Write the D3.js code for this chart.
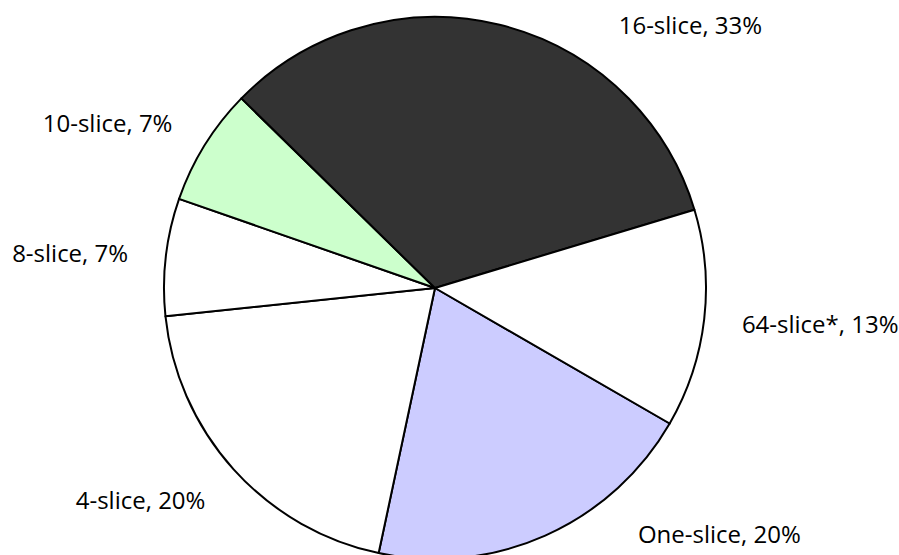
<!DOCTYPE html>
<html>
<head>
<meta charset="utf-8">
<script src="https://cdn.jsdelivr.net/npm/d3@7"></script>
<style>
  body { margin: 0; background: #fff; }
  svg { display: block; }
</style>
</head>
<body>
<div id="chart"></div>
<script>
// slice data, in the order the pie is drawn (clockwise)
var categories = ["One-slice", "4-slice", "8-slice", "10-slice", "16-slice", "64-slice*"];
var shares = [20, 20, 7, 7, 33, 13];
var sliceColors = ["#ccccff", "#ffffff", "#ffffff", "#ccffcc", "#333333", "#ffffff"];

var width = 899;
var height = 555;
var cx = 435, cy = 288;
var radius = 271;
var labelRadius = radius * 1.14;
var topLimit = 8, bottomLimit = 550;

var svg = d3.select("#chart")
    .append("svg")
    .attr("width", width)
    .attr("height", height);

var g = svg.append("g")
    .attr("transform", "translate(" + cx + "," + cy + ")");

var data = categories.map(function(c, i) { return { name: c, value: shares[i], color: sliceColors[i] }; });

var startAngle = 120 * Math.PI / 180;
var pie = d3.pie()
    .sort(null)
    .value(function(d) { return d.value; })
    .startAngle(startAngle)
    .endAngle(startAngle + 2 * Math.PI);

var arcs = pie(data);
var arc = d3.arc().innerRadius(0).outerRadius(radius);

g.selectAll("path.slice")
    .data(arcs)
    .enter()
    .append("path")
    .attr("class", "slice")
    .attr("d", arc)
    .attr("fill", function(d) { return d.data.color; })
    .attr("stroke", "#000")
    .style("stroke-width", "2px")
    .style("stroke-linejoin", "round");

// labels: text box hangs off a circle round the pie
var labels = g.selectAll("text.lbl")
    .data(arcs)
    .enter()
    .append("text")
    .attr("class", "lbl")
    .style("font-family", "'Open Sans', 'Noto Sans', sans-serif")
    .style("font-size", "24px")
    .style("fill", "#000")
    .text(function(d) { return d.data.name + ", " + d.data.value + "%"; });

labels.each(function(d) {
    var el = d3.select(this);
    var a = (d.startAngle + d.endAngle) / 2;
    var bb = this.getBBox();
    var w = bb.width, h = bb.height;
    var px = labelRadius * Math.sin(a);
    var py = -labelRadius * Math.cos(a);
    var c = Math.cos(a);
    var fy = 0.5 + 0.5 * c * c * c; // 1 => box bottom at point, 0 => box top at point
    var right = Math.sin(a) >= 0;
    var boxTop = py - fy * h;
    // keep the box inside the picture, sliding along the circle
    var minTop = topLimit - cy, maxTop = bottomLimit - cy - h;
    if (boxTop < minTop || boxTop > maxTop) {
        boxTop = Math.max(minTop, Math.min(maxTop, boxTop));
        py = boxTop + fy * h;
        var dx = Math.sqrt(Math.max(0, labelRadius * labelRadius - py * py));
        px = right ? dx : -dx;
    }
    var boxLeft = right ? px : px - w;
    el.attr("x", boxLeft - bb.x)
      .attr("y", boxTop - bb.y);
});
</script>
</body>
</html>
